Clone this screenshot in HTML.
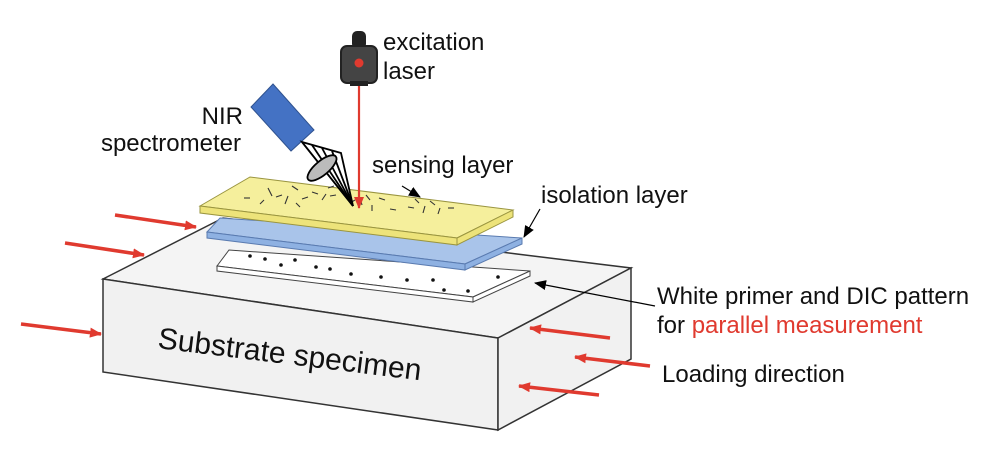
<!DOCTYPE html>
<html><head><style>
body{margin:0;background:#fff;}
svg{display:block;}
text{font-family:"Liberation Sans",Arial,sans-serif;font-size:24px;fill:#111;}
</style></head><body>
<svg width="991" height="458" viewBox="0 0 991 458" xmlns="http://www.w3.org/2000/svg">
<defs>
<marker id="ar" markerWidth="12" markerHeight="10" refX="11" refY="5" orient="auto" markerUnits="userSpaceOnUse"><path d="M0,0 L12,5 L0,10 z" fill="#e03a2f"/></marker>
<marker id="ab" markerWidth="12" markerHeight="12" refX="11" refY="6" orient="auto" markerUnits="userSpaceOnUse"><path d="M0,1 L12,6 L0,11 z" fill="#000"/></marker>
</defs>
<polygon points="103,279 223,218 631,268 498,338" fill="#f4f4f4" stroke="#333" stroke-width="1.5"/>
<polygon points="103,279 498,338 498,430 103,372" fill="#f1f1f1" stroke="#333" stroke-width="1.5"/>
<polygon points="498,338 631,268 631,359 498,430" fill="#f1f1f1" stroke="#333" stroke-width="1.5"/>
<text x="0" y="0" transform="translate(157,348) rotate(7)" style="font-size:30px">Substrate specimen</text>
<polygon points="217,266 229,250 530,271 473,297" fill="#fff" stroke="#444" stroke-width="1"/>
<polygon points="217,266 473,297 473,302 217,271" fill="#fff" stroke="#444" stroke-width="1"/>
<polygon points="473,297 530,271 530,276 473,302" fill="#fff" stroke="#444" stroke-width="1"/>
<g fill="#111">
<circle cx="250" cy="256" r="1.8"/><circle cx="265" cy="259" r="1.8"/><circle cx="295" cy="260" r="1.8"/><circle cx="281" cy="265" r="1.8"/><circle cx="316" cy="267" r="1.8"/><circle cx="330" cy="269" r="1.8"/><circle cx="351" cy="274" r="1.8"/><circle cx="381" cy="277" r="1.8"/><circle cx="407" cy="280" r="1.8"/><circle cx="433" cy="280" r="1.8"/><circle cx="444" cy="290" r="1.8"/><circle cx="468" cy="291" r="1.8"/><circle cx="498" cy="277" r="1.8"/>
</g>
<polygon points="207,232 220,218 522,238 465,264" fill="#a9c4ea" stroke="#5a7bb0" stroke-width="1"/>
<polygon points="207,232 465,264 465,270 207,238" fill="#8eb1e2" stroke="#5a7bb0" stroke-width="1"/>
<polygon points="465,264 522,238 522,244 465,270" fill="#8eb1e2" stroke="#5a7bb0" stroke-width="1"/>
<polygon points="200,206 250,177 513,210 457,238" fill="#f5ef9c" stroke="#9a9540" stroke-width="1"/>
<polygon points="200,206 457,238 457,245 200,213" fill="#ede37a" stroke="#9a9540" stroke-width="1"/>
<polygon points="457,238 513,210 513,217 457,245" fill="#ede37a" stroke="#9a9540" stroke-width="1"/>
<g stroke="#333" stroke-width="1.1">
<line x1="244" y1="198" x2="250" y2="198"/><line x1="268" y1="188" x2="272" y2="196"/><line x1="276" y1="197" x2="282" y2="195"/><line x1="285" y1="204" x2="288" y2="196"/><line x1="292" y1="186" x2="298" y2="190"/><line x1="302" y1="199" x2="308" y2="197"/><line x1="312" y1="192" x2="318" y2="194"/><line x1="322" y1="200" x2="326" y2="194"/><line x1="330" y1="196" x2="336" y2="195"/><line x1="337" y1="185" x2="341" y2="191"/><line x1="328" y1="188" x2="334" y2="186"/><line x1="345" y1="190" x2="349" y2="198"/><line x1="350" y1="203" x2="355" y2="200"/><line x1="360" y1="198" x2="362" y2="205"/><line x1="366" y1="195" x2="370" y2="200"/><line x1="372" y1="205" x2="372" y2="211"/><line x1="379" y1="198" x2="385" y2="200"/><line x1="390" y1="209" x2="396" y2="210"/><line x1="408" y1="207" x2="414" y2="208"/><line x1="415" y1="199" x2="419" y2="203"/><line x1="423" y1="213" x2="425" y2="206"/><line x1="430" y1="201" x2="435" y2="205"/><line x1="438" y1="214" x2="440" y2="208"/><line x1="448" y1="208" x2="454" y2="208"/><line x1="260" y1="204" x2="264" y2="200"/><line x1="296" y1="203" x2="300" y2="207"/></g>
<line x1="359" y1="86" x2="359" y2="208" stroke="#e03a2f" stroke-width="2.2" marker-end="url(#ar)"/>
<rect x="352" y="31" width="14" height="18" rx="5" fill="#222"/>
<rect x="341" y="46" width="36" height="37" rx="6" fill="#444" stroke="#222" stroke-width="2"/>
<rect x="350" y="81" width="18" height="5" fill="#222"/>
<circle cx="359" cy="63" r="4.5" fill="#e03a2f"/>
<text x="383" y="50">excitation</text>
<text x="383" y="79">laser</text>
<polygon points="273,84 314,130 291,151 251,107" fill="#4472c4" stroke="#2f528f" stroke-width="1"/>
<text x="243" y="124" text-anchor="end">NIR</text>
<text x="241" y="151" text-anchor="end">spectrometer</text>
<g stroke="#000" stroke-width="1.8" fill="none">
<polygon points="302,142 341,153 353,206" fill="#fff"/>
<line x1="302" y1="142" x2="353" y2="206"/><line x1="312" y1="145" x2="353" y2="206"/><line x1="322" y1="148" x2="353" y2="206"/><line x1="332" y1="151" x2="353" y2="206"/>
</g>
<ellipse cx="322" cy="168" rx="18" ry="7" transform="rotate(-40 322 168)" fill="#bbb" stroke="#000" stroke-width="1.8"/>
<text x="372" y="173">sensing layer</text>
<line x1="402" y1="186" x2="420" y2="197" stroke="#000" stroke-width="1.2" marker-end="url(#ab)"/>
<text x="541" y="203">isolation layer</text>
<line x1="540" y1="209" x2="524" y2="237" stroke="#000" stroke-width="1.2" marker-end="url(#ab)"/>
<text x="657" y="304">White primer and DIC pattern</text>
<text x="657" y="333">for <tspan fill="#e03a2f">parallel measurement</tspan></text>
<line x1="655" y1="306" x2="535" y2="283" stroke="#000" stroke-width="1.2" marker-end="url(#ab)"/>
<text x="662" y="382">Loading direction</text>
<g stroke="#e03a2f" stroke-width="3.5" marker-end="url(#ar)">
<line x1="115" y1="215" x2="196" y2="227"/>
<line x1="65" y1="243" x2="144" y2="255"/>
<line x1="21" y1="324" x2="101" y2="334"/>
<line x1="610" y1="338" x2="530" y2="328"/>
<line x1="650" y1="366" x2="575" y2="357"/>
<line x1="599" y1="395" x2="519" y2="386"/>
</g>
</svg>
</body></html>
